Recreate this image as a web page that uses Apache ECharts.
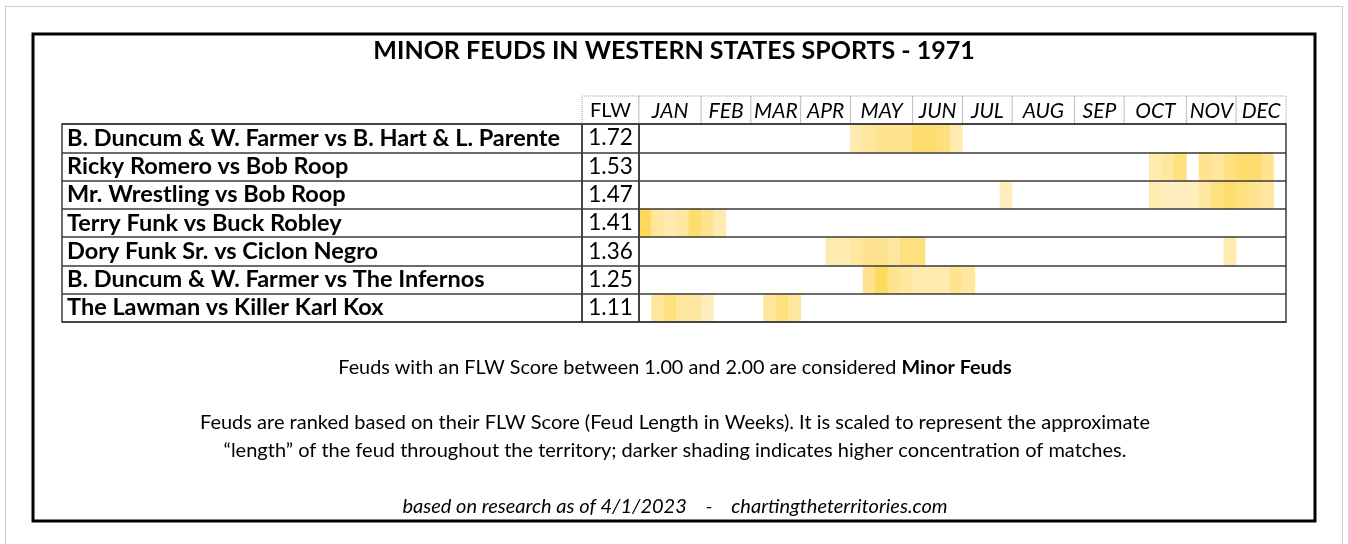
<!DOCTYPE html>
<html>
<head>
<meta charset="utf-8">
<script src="https://cdn.jsdelivr.net/npm/echarts@6/dist/echarts.min.js"></script>
<style>
  html, body { margin: 0; padding: 0; background: #fff; }
  #chart { width: 1348px; height: 544px; }
</style>
</head>
<body>
<div id="chart"></div>
<script>
  // feuds, top to bottom
  const feuds = [
    'B. Duncum & W. Farmer vs B. Hart & L. Parente',
    'Ricky Romero vs Bob Roop',
    'Mr. Wrestling vs Bob Roop',
    'Terry Funk vs Buck Robley',
    'Dory Funk Sr. vs Ciclon Negro',
    'B. Duncum & W. Farmer vs The Infernos',
    'The Lawman vs Killer Karl Kox'
  ]
  const flw = ['1.72', '1.53', '1.47', '1.41', '1.36', '1.25', '1.11']
  const months = ['JAN', 'FEB', 'MAR', 'APR', 'MAY', 'JUN', 'JUL', 'AUG', 'SEP', 'OCT', 'NOV', 'DEC']
  const monthWeeks = [5, 4, 4, 4, 5, 4, 4, 5, 4, 5, 4, 4]
  // shading per feud: [first week (0-based), match intensity for each week from there]
  const shading = [
    [[17, [2, 2.5, 3, 3, 3, 4, 4, 3.5, 2]]],
    [[41, [2, 2.5, 3.5]], [45, [3, 2.5, 3.5, 4, 4, 3]]],
    [[29, [1.5]], [41, [2, 1.5, 1.5, 1.5, 2.5, 3.5, 4, 3.5, 3, 2.5]]],
    [[0, [4.5, 2.5, 2, 2.5, 4, 3, 2]]],
    [[15, [2, 2, 2.5, 3, 3, 2.5, 3.5, 3.5]], [47, [2]]],
    [[18, [3, 4.5, 3, 2.5, 2, 2, 2, 3, 2.5]]],
    [[1, [2.5, 3.5, 2.5, 2.5, 1.5]], [10, [2.5, 3.5, 2.5]]]
  ]

  const FONT = 'Lato'
  const totalWeeks = monthWeeks.reduce((a, b) => a + b, 0)
  const weeks = Array.from({length: totalWeeks}, (_, i) => 'W' + (i + 1))

  const heat = []
  shading.forEach((segs, r) => {
    segs.forEach(([start, vals]) => {
      vals.forEach((v, i) => heat.push([start + i, r, v]))
    })
  })

  const monthCells = []
  let w = 0
  months.forEach((m, i) => {
    monthCells.push([w, w + monthWeeks[i], m])
    w += monthWeeks[i]
  })

  const tableTop = 124, tableHeight = 198
  const lineCol = '#3a3a3a'

  const catY = (data, gridIndex, label) => ({
    type: 'category',
    gridIndex: gridIndex,
    data: data,
    inverse: true,
    z: 5,
    axisLine: {show: false},
    axisTick: {show: false},
    splitLine: {show: true, interval: 0, lineStyle: {color: lineCol, width: 1.5}},
    axisLabel: label
  })

  const chart = echarts.init(document.getElementById('chart'))
  chart.setOption({
    animation: false,
    title: {
      text: 'MINOR FEUDS IN WESTERN STATES SPORTS - 1971',
      left: 'center',
      top: 38,
      padding: 0,
      textStyle: {fontFamily: FONT, fontSize: 25, fontWeight: 'bold', color: '#000'}
    },
    grid: [
      {left: 62, width: 520, top: tableTop, height: tableHeight, show: true, z: 5, borderColor: lineCol, borderWidth: 1.5},
      {left: 582, width: 57, top: tableTop, height: tableHeight, show: true, z: 5, borderColor: lineCol, borderWidth: 1.5},
      {left: 639, width: 647, top: tableTop, height: tableHeight, show: true, z: 5, borderColor: lineCol, borderWidth: 1.5},
      {left: 639, width: 647, top: 96, height: 28}
    ],
    xAxis: [
      {type: 'value', gridIndex: 0, show: false},
      {type: 'value', gridIndex: 1, show: false},
      {type: 'category', gridIndex: 2, data: weeks, show: false},
      {type: 'value', gridIndex: 3, min: 0, max: totalWeeks, show: false}
    ],
    yAxis: [
      catY(feuds, 0, {interval: 0, inside: true, margin: 5, fontFamily: FONT, fontSize: 23.5, fontWeight: 'bold', color: '#000'}),
      catY(flw, 1, {interval: 0, inside: true, align: 'center', margin: 28.5, fontFamily: FONT, fontSize: 22.5, color: '#000'}),
      catY(feuds, 2, {show: false}),
      {type: 'value', gridIndex: 3, min: 0, max: 1, show: false}
    ],
    visualMap: {
      show: false,
      min: 1,
      max: 5,
      dimension: 2,
      seriesIndex: 0,
      inRange: {color: ['#fff3cd', '#ffe391', '#ffd54a']}
    },
    series: [
      {
        type: 'heatmap',
        xAxisIndex: 2,
        yAxisIndex: 2,
        data: heat,
        itemStyle: {borderWidth: 0},
        emphasis: {disabled: true}
      },
      {
        type: 'custom',
        xAxisIndex: 3,
        yAxisIndex: 3,
        data: monthCells,
        renderItem: (params, api) => {
          const p0 = api.coord([api.value(0), 1])
          const p1 = api.coord([api.value(1), 0])
          return {
            type: 'group',
            children: [
              {
                type: 'rect',
                shape: {x: p0[0], y: p0[1], width: p1[0] - p0[0], height: p1[1] - p0[1]},
                style: {fill: '#fff', stroke: '#9a9a9a', lineWidth: 1, lineDash: [1, 1]}
              },
              {
                type: 'text',
                style: {
                  text: monthCells[params.dataIndex][2],
                  x: (p0[0] + p1[0]) / 2, y: (p0[1] + p1[1]) / 2 + 1,
                  align: 'center', verticalAlign: 'middle',
                  font: 'italic 21px ' + FONT, fill: '#000'
                }
              }
            ]
          }
        }
      },
      {type: 'scatter', xAxisIndex: 0, yAxisIndex: 0, data: []},
      {type: 'scatter', xAxisIndex: 1, yAxisIndex: 1, data: []}
    ],
    graphic: [
      {type: 'rect', shape: {x: 5.5, y: 6.5, width: 1337, height: 560}, style: {fill: 'none', stroke: '#999', lineWidth: 1, lineDash: [1, 1]}},
      {type: 'rect', shape: {x: 33, y: 34, width: 1282, height: 487}, style: {fill: 'none', stroke: '#000', lineWidth: 3}},
      {type: 'rect', shape: {x: 582, y: 96, width: 57, height: 28}, style: {fill: '#fff', stroke: '#9a9a9a', lineWidth: 1, lineDash: [1, 1]}},
      {type: 'text', x: 610.5, y: 111, style: {text: 'FLW', align: 'center', verticalAlign: 'middle', font: '20px ' + FONT, fill: '#000'}},
      {
        type: 'text', x: 675, y: 368,
        style: {
          text: '{n|Feuds with an FLW Score between 1.00 and 2.00 are considered }{b|Minor Feuds}',
          align: 'center', verticalAlign: 'middle',
          rich: {
            n: {fontFamily: FONT, fontSize: 19.8, fill: '#000'},
            b: {fontFamily: FONT, fontSize: 19.8, fontWeight: 'bold', fill: '#000'}
          }
        }
      },
      {type: 'text', x: 675, y: 423, style: {text: 'Feuds are ranked based on their FLW Score (Feud Length in Weeks). It is scaled to represent the approximate', align: 'center', verticalAlign: 'middle', font: '20px ' + FONT, fill: '#000'}},
      {type: 'text', x: 675, y: 451, style: {text: '\u201Clength\u201D of the feud throughout the territory; darker shading indicates higher concentration of matches.', align: 'center', verticalAlign: 'middle', font: '20px ' + FONT, fill: '#000'}},
      {type: 'text', x: 675, y: 507, style: {text: 'based on research as of 4/1/2023    -    chartingtheterritories.com', align: 'center', verticalAlign: 'middle', font: 'italic 20px ' + FONT, fill: '#000'}}
    ]
  })
</script>
</body>
</html>
